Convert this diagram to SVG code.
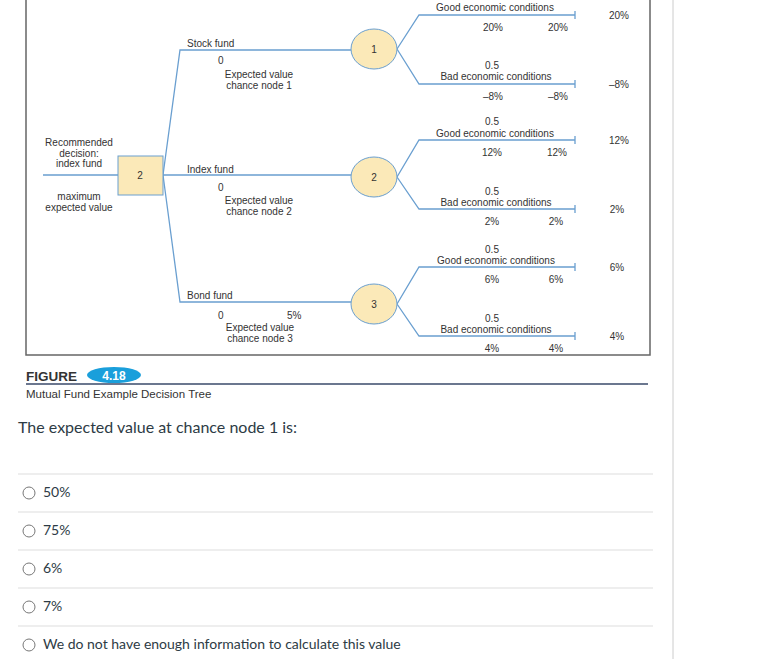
<svg xmlns="http://www.w3.org/2000/svg" width="781" height="659" viewBox="0 0 781 659">
<style>
.t{font-family:"Liberation Sans",Arial,sans-serif;font-size:10px;fill:#333}
.c{text-anchor:middle}
.br{fill:none;stroke:#6a9fd0;stroke-width:1.3}
.ch{fill:#fbe9b8;stroke:#6a9fd0;stroke-width:1}
.q{font-family:"Lato","Liberation Sans",sans-serif;font-size:14px;fill:#2d3b45}
.sep{stroke:#ddd;stroke-width:1}
.rad{fill:#fff;stroke:#777;stroke-width:1}
</style>
<rect width="781" height="659" fill="#fff"/>
<line x1="673" y1="0" x2="673" y2="659" stroke="#ccc"/>
<path d="M26 -2 V355 H650 V-2" fill="none" stroke="#666" stroke-width="1.5"/>
<g id="connectors">
<path class="br" d="M43 175H118 M163 175 L180 50 H351 M163 175 H351 M163 175 L180 302 H351"/>
<path class="br" d="M397 49 L419 15 H575 M397 49 L419 84 H575 M575 11 V19 M575 80 V88"/>
<path class="br" d="M397 177 L419 140 H575 M397 177 L419 209 H575 M575 136 V144 M575 205 V213"/>
<path class="br" d="M397 304 L419 267 H575 M397 304 L419 336 H575 M575 263 V271 M575 332 V340"/>
</g>
<g id="decision"><rect x="118" y="156" width="45" height="39" fill="#fbe9b8" stroke="#6a9fd0"/><text class="t c" x="140" y="179">2</text></g>
<g id="chance1"><ellipse class="ch" cx="374" cy="49" rx="23" ry="20"/><text class="t c" x="374" y="53">1</text></g>
<g id="chance2"><ellipse class="ch" cx="374" cy="177" rx="23" ry="20"/><text class="t c" x="374" y="181">2</text></g>
<g id="chance3"><ellipse class="ch" cx="374" cy="304" rx="23" ry="20"/><text class="t c" x="374" y="308">3</text></g>
<g id="labels">
<text class="t c" x="79" y="146">Recommended</text><text class="t c" x="79" y="157">decision:</text><text class="t c" x="79" y="167">index fund</text>
<text class="t c" x="79" y="200">maximum</text><text class="t c" x="79" y="211">expected value</text>
<text class="t" x="187" y="47">Stock fund</text><text class="t" x="218" y="64">0</text>
<text class="t c" x="259" y="78">Expected value</text><text class="t c" x="259" y="89">chance node 1</text>
<text class="t" x="187" y="173">Index fund</text><text class="t" x="218" y="191">0</text>
<text class="t c" x="259" y="204">Expected value</text><text class="t c" x="259" y="215">chance node 2</text>
<text class="t" x="187" y="299">Bond fund</text><text class="t" x="218" y="319">0</text><text class="t" x="287" y="319">5%</text>
<text class="t c" x="260" y="331">Expected value</text><text class="t c" x="260" y="342">chance node 3</text>
<text class="t c" x="495" y="11">Good economic conditions</text><text class="t c" x="493" y="31">20%</text><text class="t c" x="558" y="31">20%</text><text class="t c" x="619" y="19">20%</text>
<text class="t c" x="492" y="69">0.5</text><text class="t c" x="496" y="80">Bad economic conditions</text><text class="t c" x="493" y="100">–8%</text><text class="t c" x="558" y="100">–8%</text><text class="t c" x="619" y="88">–8%</text>
<text class="t c" x="492" y="125">0.5</text><text class="t c" x="495" y="137">Good economic conditions</text><text class="t c" x="492" y="156">12%</text><text class="t c" x="557" y="156">12%</text><text class="t c" x="619" y="144">12%</text>
<text class="t c" x="492" y="195">0.5</text><text class="t c" x="496" y="206">Bad economic conditions</text><text class="t c" x="492" y="225">2%</text><text class="t c" x="556" y="225">2%</text><text class="t c" x="617" y="213">2%</text>
<text class="t c" x="492" y="253">0.5</text><text class="t c" x="496" y="264">Good economic conditions</text><text class="t c" x="492" y="283">6%</text><text class="t c" x="556" y="283">6%</text><text class="t c" x="617" y="271">6%</text>
<text class="t c" x="492" y="322">0.5</text><text class="t c" x="496" y="333">Bad economic conditions</text><text class="t c" x="492" y="352">4%</text><text class="t c" x="556" y="352">4%</text><text class="t c" x="617" y="340">4%</text>
</g>
<g id="caption">
<text x="26" y="381" font-family="Liberation Sans,Arial,sans-serif" font-size="13.5" font-weight="bold" fill="#333">FIGURE</text>
<ellipse cx="114" cy="375" rx="27" ry="8" fill="#1a9fdb"/>
<text x="114" y="379.5" text-anchor="middle" font-family="Liberation Sans,Arial,sans-serif" font-size="12" font-weight="bold" fill="#fff">4.18</text>
<line x1="26" y1="384" x2="648" y2="384" stroke="#3a4a6a" stroke-width="1.5"/>
<text x="26" y="398" font-family="Liberation Sans,Arial,sans-serif" font-size="11.5" fill="#333">Mutual Fund Example Decision Tree</text>
</g>
<g id="question">
<text class="q" x="18" y="433" font-size="16" style="font-size:16px">The expected value at chance node 1 is:</text>
<line class="sep" x1="18" y1="474" x2="653" y2="474"/><line class="sep" x1="18" y1="512" x2="653" y2="512"/><line class="sep" x1="18" y1="550" x2="653" y2="550"/><line class="sep" x1="18" y1="588" x2="653" y2="588"/><line class="sep" x1="18" y1="626" x2="653" y2="626"/>
<circle class="rad" cx="29" cy="493" r="6"/><text class="q" x="43" y="497">50%</text>
<circle class="rad" cx="29" cy="531" r="6"/><text class="q" x="43" y="535">75%</text>
<circle class="rad" cx="29" cy="569" r="6"/><text class="q" x="43" y="573">6%</text>
<circle class="rad" cx="29" cy="607" r="6"/><text class="q" x="43" y="611">7%</text>
<circle class="rad" cx="29" cy="645" r="6"/><text class="q" x="43" y="649">We do not have enough information to calculate this value</text>
</g>
</svg>
